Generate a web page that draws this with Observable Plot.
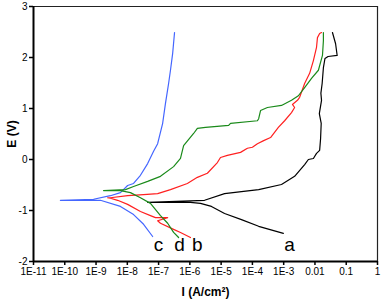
<!DOCTYPE html>
<html>
<head>
<meta charset="utf-8">
<script src="https://cdn.jsdelivr.net/npm/d3@7"></script>
<script src="https://cdn.jsdelivr.net/npm/@observablehq/plot@0.6"></script>
<style>
  html, body { margin: 0; padding: 0; background: #fff; }
  #chart svg { display: block; }
  #chart svg [aria-label="x-axis label"] text,
  #chart svg [aria-label="y-axis label"] text,
  #chart svg [aria-label="x-axis label"],
  #chart svg [aria-label="y-axis label"] { font-weight: bold; font-size: 12px; }
</style>
</head>
<body>
<div id="chart"></div>
<script>
// Curve a (black): log10(I / A cm^-2) and E (V), from cathodic end through Ecorr to anodic end
const aLogI = [-3.01, -3.80, -4.35, -4.89, -5.31, -5.66, -5.98, -7.35, -5.53, -4.89, -4.35, -3.80, -3.07, -2.65, -2.33, -2.21, -2.05, -1.95, -1.85, -1.82, -1.80, -1.86, -1.79, -1.81, -1.77, -1.73, -1.68, -1.58, -1.29, -1.34, -1.44];
const aE    = [-1.45, -1.31, -1.18, -1.06, -0.92, -0.86, -0.84, -0.84, -0.80, -0.67, -0.63, -0.59, -0.49, -0.33, -0.10, 0.00, 0.02, 0.12, 0.18, 0.41, 0.71, 0.90, 1.16, 1.30, 1.49, 1.80, 1.98, 2.02, 2.04, 2.27, 2.49];

// Curve b (red)
const bLogI = [-5.98, -6.30, -6.52, -6.94, -7.03, -6.71, -7.10, -7.26, -7.58, -7.99, -8.31, -8.54, -8.63, -8.54, -7.99, -7.48, -7.03, -6.62, -6.08, -5.76, -5.44, -5.12, -5.02, -4.80, -4.38, -4.16, -4.00, -3.84, -3.64, -3.42, -3.17, -2.97, -2.75, -2.65, -2.72, -2.56, -2.49, -2.33, -2.17, -2.05, -1.95, -1.92, -1.85, -1.79];
const bE    = [-1.53, -1.43, -1.37, -1.25, -1.20, -1.14, -1.14, -1.10, -1.02, -0.88, -0.80, -0.76, -0.75, -0.75, -0.71, -0.69, -0.67, -0.59, -0.47, -0.35, -0.27, -0.06, 0.04, 0.08, 0.14, 0.22, 0.24, 0.31, 0.37, 0.43, 0.63, 0.76, 0.92, 1.02, 1.08, 1.16, 1.22, 1.49, 1.69, 1.94, 2.20, 2.39, 2.47, 2.49];

// Curve c (blue)
const cLogI = [-7.19, -7.48, -7.80, -8.22, -8.86, -10.14, -9.08, -8.54, -8.22, -7.99, -7.80, -7.58, -7.35, -7.16, -7.03, -6.87, -6.78, -6.68, -6.62, -6.55, -6.49];
const cE    = [-1.51, -1.27, -1.08, -0.92, -0.80, -0.80, -0.78, -0.71, -0.65, -0.51, -0.47, -0.31, -0.08, 0.16, 0.31, 0.71, 1.10, 1.49, 1.75, 2.08, 2.49];

// Curve d (green)
const dLogI = [-6.36, -6.52, -6.71, -6.94, -7.26, -7.58, -7.90, -8.22, -8.76, -8.06, -7.80, -7.35, -6.94, -6.52, -6.30, -6.20, -5.88, -5.76, -5.50, -4.76, -4.70, -3.84, -3.80, -3.74, -3.52, -3.07, -2.75, -2.53, -2.33, -2.11, -1.89, -1.76, -1.73, -1.73];
const dE    = [-1.53, -1.43, -1.25, -1.10, -0.86, -0.75, -0.65, -0.61, -0.61, -0.59, -0.53, -0.43, -0.33, -0.14, 0.02, 0.27, 0.51, 0.61, 0.63, 0.67, 0.71, 0.76, 0.80, 0.96, 1.02, 1.06, 1.16, 1.25, 1.41, 1.59, 1.75, 2.04, 2.33, 2.49];

const seriesNames  = ["a", "b", "c", "d"];
const seriesColors = ["#000000", "#ff2020", "#4466ff", "#1a8a1a"];
const labelLogI = [-2.81, -5.76, -7.00, -6.33];
const labelE    = [-1.67, -1.67, -1.67, -1.67];

const xTickValues = [1e-11, 1e-10, 1e-9, 1e-8, 1e-7, 1e-6, 1e-5, 1e-4, 1e-3, 0.01, 0.1, 1];
const xTickLabels = ["1E-11", "1E-10", "1E-9", "1E-8", "1E-7", "1E-6", "1E-5", "1E-4", "1E-3", "0.01", "0.1", "1"];
const yTicks = [-2, -1, 0, 1, 2, 3];
const yTickLabels = ["-2", "-1", "0", "1", "2", "3"];

const curves = [[aLogI, aE], [bLogI, bE], [cLogI, cE], [dLogI, dE]];
const rows = [];
curves.forEach(([li, e], k) => {
  li.forEach((v, i) => rows.push({series: seriesNames[k], I: 10 ** v, E: e[i], order: i}));
});
const labels = seriesNames.map((s, k) => ({series: s, I: 10 ** labelLogI[k], E: labelE[k]}));

const chart = Plot.plot({
  width: 382,
  height: 302,
  marginLeft: 33,
  marginRight: 5,
  marginTop: 6,
  marginBottom: 41,
  style: {fontFamily: "Liberation Sans, Arial, sans-serif", fontSize: "10px", background: "#fff"},
  x: {type: "log", domain: [1e-11, 1]},
  y: {domain: [-2, 3]},
  color: {domain: seriesNames, range: seriesColors},
  marks: [
    Plot.ruleY([3], {stroke: "#222", strokeWidth: 1.2}),
    Plot.ruleX([1], {stroke: "#222", strokeWidth: 1.2}),
    Plot.line(rows, {x: "I", y: "E", z: "series", stroke: "series", strokeWidth: 1.2, curve: "linear"}),
    Plot.text(labels, {x: "I", y: "E", text: "series", fontSize: 19, fill: "#000", textAnchor: "middle", lineAnchor: "middle"}),
    Plot.axisX({
      ticks: xTickValues,
      tickFormat: (d) => xTickLabels[xTickValues.indexOf(d)],
      tickSize: 4,
      tickPadding: 2,
      label: "I (A/cm²)",
      labelAnchor: "center",
      labelArrow: "none",
      labelOffset: 34,
      stroke: "#000",
      strokeWidth: 1.5
    }),
    Plot.axisY({
      ticks: yTicks,
      tickFormat: (d) => yTickLabels[yTicks.indexOf(d)],
      tickSize: 4,
      tickPadding: 2,
      label: "E (V)",
      labelAnchor: "center",
      labelArrow: "none",
      labelOffset: 26,
      stroke: "#000",
      strokeWidth: 1.5
    }),
    Plot.ruleX([1e-11], {stroke: "#000", strokeWidth: 2}),
    Plot.ruleY([-2], {stroke: "#000", strokeWidth: 2})
  ]
});
document.getElementById("chart").appendChild(chart);
</script>
</body>
</html>
